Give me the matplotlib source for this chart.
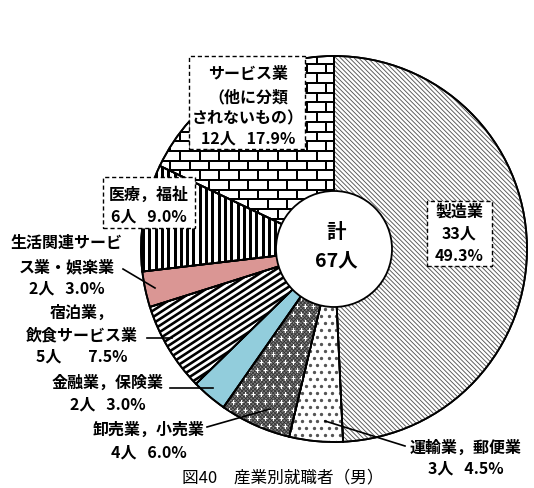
import matplotlib
matplotlib.use("Agg")
import matplotlib.pyplot as plt
import numpy as np
from matplotlib.collections import LineCollection
from matplotlib.patches import Circle, Rectangle, Wedge

plt.rcParams['font.family'] = ['Noto Sans CJK JP', 'DejaVu Sans']

# data (clockwise from 12 o'clock)
industries = ['製造業', '運輸業，郵便業', '卸売業，小売業', '金融業，保険業',
              '宿泊業，飲食サービス業', '生活関連サービス業・娯楽業',
              '医療，福祉', 'サービス業（他に分類されないもの）']
counts = [33, 3, 4, 2, 5, 2, 6, 12]
percents = ['49.3%', '4.5%', '6.0%', '3.0%', '7.5%', '3.0%', '9.0%', '17.9%']
total = 67
caption = '図40　産業別就職者（男）'

face = ['white', 'white', '#7d7d7d', '#92CDDC', 'white', '#DA9694', 'white', 'white']

W, H = 534, 489
fig = plt.figure(figsize=(W / 100, H / 100), dpi=100)
ax = fig.add_axes([0, 0, 1, 1])


def Y(y):
    # pixel row -> data y
    return H - y


cx, cy, R = 334, Y(250), 193
PX = 0.72  # one pixel in points

wedges, _ = ax.pie(counts, startangle=90, counterclock=False, colors=face,
                   center=(cx, cy), radius=R,
                   wedgeprops=dict(edgecolor='black', linewidth=1.3))
ax.set_xlim(0, W)
ax.set_ylim(0, H)
ax.set_aspect('equal')
ax.axis('off')


def stripes(wedge, angle, spacing, lw, color='black'):
    a = np.deg2rad(angle)
    d = np.array([np.cos(a), np.sin(a)])
    n = np.array([-np.sin(a), np.cos(a)])
    segs = []
    for off in np.arange(-R * 1.1, R * 1.1, spacing):
        p = np.array([cx, cy]) + n * off
        segs.append([p - d * R * 1.2, p + d * R * 1.2])
    lc = LineCollection(segs, colors=color, linewidths=lw * PX, zorder=wedge.get_zorder() + 0.1)
    ax.add_collection(lc)
    lc.set_clip_path(wedge)


def dots(wedge, sx, sy, size, color, marker='o'):
    xs, ys = [], []
    for i, yy in enumerate(np.arange(cy - R, cy + R, sy)):
        shift = (i % 2) * sx / 2
        for xx in np.arange(cx - R + shift, cx + R, sx):
            xs.append(xx)
            ys.append(yy)
    sc = ax.scatter(xs, ys, s=size, c=color, marker=marker, linewidths=0.8,
                    zorder=wedge.get_zorder() + 0.2)
    sc.set_clip_path(wedge)


def bricks(wedge, h, w, lw):
    segs = []
    rows = np.arange(cy - R - h, cy + R + h, h)
    for i, yy in enumerate(rows):
        segs.append([(cx - R, yy), (cx + R, yy)])
        shift = (i % 2) * w / 2
        for xx in np.arange(cx - R - w + shift, cx + R + w, w):
            segs.append([(xx, yy), (xx, yy + h)])
    lc = LineCollection(segs, colors='black', linewidths=lw * PX, zorder=wedge.get_zorder() + 0.1)
    ax.add_collection(lc)
    lc.set_clip_path(wedge)


# textures
stripes(wedges[0], -45, 3.2, 0.9, '#555555')
dots(wedges[1], 7.5, 7.0, 2.5, '#555555')
stripes(wedges[2], 45, 2.6, 0.7, '#2a2a2a')
stripes(wedges[2], -45, 2.6, 0.7, '#2a2a2a')
dots(wedges[2], 8.0, 8.0, 12, 'white', marker='+')
stripes(wedges[4], 33, 5.4, 2.6)
stripes(wedges[6], 90, 6.3, 3.0)
bricks(wedges[7], 9.7, 19.5, 2.0)

# wedge outlines on top of textures
for wd in wedges:
    ax.add_patch(Wedge((cx, cy), R, wd.theta1, wd.theta2, facecolor='none',
                       edgecolor='black', linewidth=1.3, zorder=3))

# center hole
ax.add_patch(Circle((cx, cy), 58, facecolor='white', edgecolor='black', linewidth=1.3, zorder=4))
ax.text(336, Y(233), '計', ha='center', va='center', fontsize=14, fontweight='bold', zorder=5)
ax.text(336, Y(261), f'{total}人', ha='center', va='center', fontsize=14, fontweight='bold', zorder=5)

fs = 11.5
gap = '   '


def lines(x, ys, texts):
    for yy, t in zip(ys, texts):
        ax.text(x, Y(yy), t, ha='center', va='center', fontsize=fs, fontweight='bold', zorder=7)


def box(x0, y0, x1, y1):
    ax.add_patch(Rectangle((x0, Y(y1)), x1 - x0, y1 - y0, facecolor='white', edgecolor='black',
                           linewidth=1.0, linestyle=(0, (3, 2)), zorder=6))


def leader(p0, p1):
    ax.plot([p0[0], p1[0]], [Y(p0[1]), Y(p1[1])], color='black', linewidth=1.2, zorder=6)


# 製造業
box(427, 202, 492, 267)
lines(459, [212, 234, 256], ['製造業', f'{counts[0]}人', percents[0]])

# サービス業（他に分類されないもの）
box(189, 57, 305, 150)
lines(248, [74, 97, 118, 139], ['サービス業', '（他に分類', 'されないもの）',
                                f'{counts[7]}人{gap}{percents[7]}'])

# 医療，福祉
box(103, 178, 195, 229)
lines(149, [195, 217], [industries[6], f'{counts[6]}人{gap}{percents[6]}'])

# 生活関連サービス業・娯楽業
lines(67, [243, 267, 289], ['生活関連サービ', 'ス業・娯楽業', f'{counts[5]}人{gap}{percents[5]}'])
leader((123, 270), (155, 289))

# 宿泊業，飲食サービス業
lines(82, [313, 335, 357], ['宿泊業，', '飲食サービス業', f'{counts[4]}人　{gap}{percents[4]}'])
leader((147, 339), (172, 339))

# 金融業，保険業
lines(108, [383, 405], [industries[3], f'{counts[3]}人{gap}{percents[3]}'])
leader((170, 389), (213, 389))

# 卸売業，小売業
lines(149, [430, 453], [industries[2], f'{counts[2]}人{gap}{percents[2]}'])
leader((207, 428), (270, 410))

# 運輸業，郵便業
lines(466, [448, 469], [industries[1], f'{counts[1]}人{gap}{percents[1]}'])
leader((325, 422), (405, 447))

ax.text(283, Y(478), caption, ha='center', va='center', fontsize=12, zorder=7)

fig.savefig('out.png', dpi=100)
